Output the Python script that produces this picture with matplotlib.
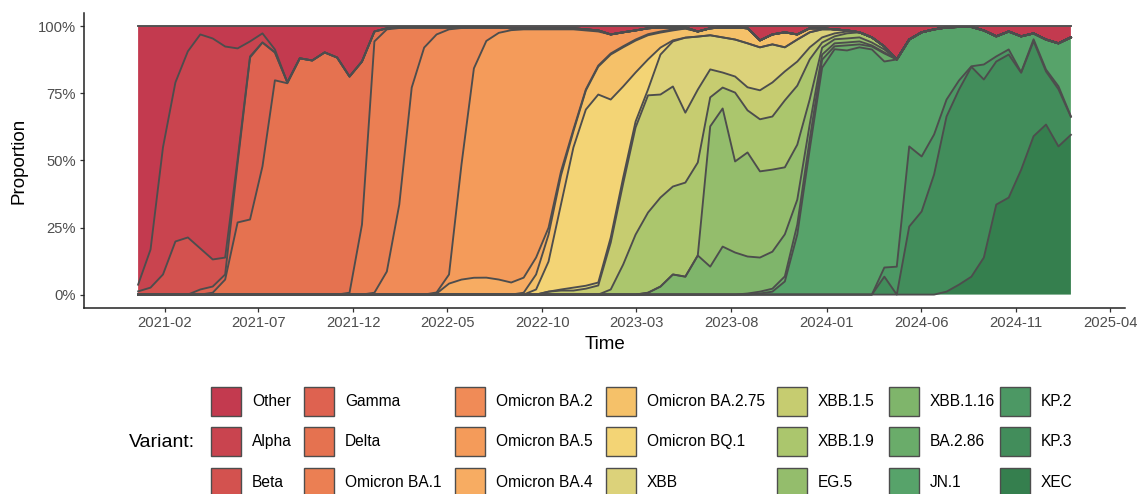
import numpy as np
import pandas as pd
import matplotlib
matplotlib.use("Agg")
import matplotlib.pyplot as plt
import matplotlib.dates as mdates
from matplotlib.patches import Rectangle

plt.rcParams['font.family'] = ['Liberation Sans', 'DejaVu Sans']

# ---------------- data (percent shares) ----------------
dates = pd.date_range("2020-12-20", periods=76, freq="20D")

labels = ["Other", "Alpha", "Beta", "Gamma", "Delta", "Omicron BA.1",
          "Omicron BA.2", "Omicron BA.5", "Omicron BA.4", "Omicron BA.2.75",
          "Omicron BQ.1", "XBB", "XBB.1.5", "XBB.1.9", "EG.5", "XBB.1.16",
          "BA.2.86", "JN.1", "KP.2", "KP.3", "XEC"]

colors = ["#C33A4F", "#C9444F", "#D3524F", "#DE6250", "#E57250", "#EB7F53",
          "#F08B57", "#F49B5A", "#F7AC62", "#F5C169", "#F3D475", "#DCD27A",
          "#C6CC70", "#ABC66D", "#94BD6C", "#7FB56B", "#6AAC6A", "#57A36A",
          "#4C9864", "#428D5B", "#357F4E"]

other = [96.3, 83.2, 45.1, 20.9, 9.3, 3.0, 4.5, 7.5, 8.2, 5.6,
         2.6, 8.6, 20.9, 11.9, 12.7, 9.7, 11.6, 18.7, 13.1, 1.9,
         0.7, 0.4, 0.4, 0.4, 0.4, 0.4, 0.4, 0.4, 0.4, 0.4,
         0.7, 0.7, 0.7, 0.7, 0.7, 0.7, 1.1, 1.5, 3.0, 2.2,
         1.5, 0.7, 0.4, 0.4, 0.4, 1.9, 0.7, 0.4, 0.4, 0.7,
         5.2, 3.0, 2.2, 3.0, 0.7, 0.7, 1.1, 1.5, 2.2, 4.1,
         7.5, 12.3, 4.9, 2.2, 1.1, 0.4, 0.2, 0.2, 1.5, 3.7,
         1.9, 3.7, 2.6, 4.9, 6.3, 4.1]
alpha = [2.5, 14.2, 47.4, 59.3, 69.4, 79.8, 82.4, 78.7, 41.4, 5.6,
         3.4, 1.1, 0, 0, 0, 0, 0, 0, 0, 0,
         0, 0, 0, 0, 0, 0, 0, 0, 0, 0,
         0, 0, 0, 0, 0, 0, 0, 0, 0, 0,
         0, 0, 0, 0, 0, 0, 0, 0, 0, 0,
         0, 0, 0, 0, 0, 0, 0, 0, 0, 0,
         0, 0, 0, 0, 0, 0, 0, 0, 0, 0,
         0, 0, 0, 0, 0, 0]
beta = [1.2, 2.6, 7.5, 19.8, 21.3, 15.3, 10.1, 6.3, 1.5, 0.4,
        0, 0, 0, 0, 0, 0, 0, 0, 0, 0,
        0, 0, 0, 0, 0, 0, 0, 0, 0, 0,
        0, 0, 0, 0, 0, 0, 0, 0, 0, 0,
        0, 0, 0, 0, 0, 0, 0, 0, 0, 0,
        0, 0, 0, 0, 0, 0, 0, 0, 0, 0,
        0, 0, 0, 0, 0, 0, 0, 0, 0, 0,
        0, 0, 0, 0, 0, 0]
gamma = [0, 0, 0, 0, 0, 1.9, 2.3, 1.9, 22.0, 60.4,
         46.2, 10.4, 0.3, 0, 0, 0, 0, 0, 0, 0,
         0, 0, 0, 0, 0, 0, 0, 0, 0, 0,
         0, 0, 0, 0, 0, 0, 0, 0, 0, 0,
         0, 0, 0, 0, 0, 0, 0, 0, 0, 0,
         0, 0, 0, 0, 0, 0, 0, 0, 0, 0,
         0, 0, 0, 0, 0, 0, 0, 0, 0, 0,
         0, 0, 0, 0, 0, 0]
delta = [0, 0, 0, 0, 0, 0, 0.7, 5.6, 26.9, 28.0,
         47.8, 79.9, 78.8, 88.1, 87.3, 90.3, 88.4, 80.6, 60.8, 3.7,
         0.4, 0.2, 0, 0, 0, 0, 0, 0, 0, 0,
         0, 0, 0, 0, 0, 0, 0, 0, 0, 0,
         0, 0, 0, 0, 0, 0, 0, 0, 0, 0,
         0, 0, 0, 0, 0, 0, 0, 0, 0, 0,
         0, 0, 0, 0, 0, 0, 0, 0, 0, 0,
         0, 0, 0, 0, 0, 0]
ba1 = [0, 0, 0, 0, 0, 0, 0, 0, 0, 0,
       0, 0, 0, 0, 0, 0, 0, 0.7, 26.1, 93.7,
       90.3, 65.9, 22.4, 7.5, 2.6, 0.7, 0.2, 0, 0, 0,
       0, 0, 0, 0, 0, 0, 0, 0, 0, 0,
       0, 0, 0, 0, 0, 0, 0, 0, 0, 0,
       0, 0, 0, 0, 0, 0, 0, 0, 0, 0,
       0, 0, 0, 0, 0, 0, 0, 0, 0, 0,
       0, 0, 0, 0, 0, 0]
ba2 = [0, 0, 0, 0, 0, 0, 0, 0, 0, 0,
       0, 0, 0, 0, 0, 0, 0, 0, 0, 0.7,
       8.6, 33.6, 77.2, 92.2, 96.3, 91.4, 51.0, 15.3, 5.0, 2.0,
       0.7, 0.4, 0.4, 0.4, 0.4, 0.4, 0.4, 0.4, 0, 0,
       0, 0, 0, 0, 0, 0, 0, 0, 0, 0,
       0, 0, 0, 0, 0, 0, 0, 0, 0, 0,
       0, 0, 0, 0, 0, 0, 0, 0, 0, 0,
       0, 0, 0, 0, 0, 0]
ba5 = [0, 0, 0, 0, 0, 0, 0, 0, 0, 0,
       0, 0, 0, 0, 0, 0, 0, 0, 0, 0,
       0, 0, 0, 0, 0.4, 3.4, 42.9, 78.4, 88.0, 91.8,
       94.0, 92.5, 85.0, 73.9, 53.0, 37.3, 22.0, 12.7, 7.1, 5.2,
       3.4, 2.2, 1.5, 0.7, 0.4, 0, 0, 0, 0, 0,
       0, 0, 0, 0, 0, 0, 0, 0, 0, 0,
       0, 0, 0, 0, 0, 0, 0, 0, 0, 0,
       0, 0, 0, 0, 0, 0]
ba4 = [0, 0, 0, 0, 0, 0, 0, 0, 0, 0,
       0, 0, 0, 0, 0, 0, 0, 0, 0, 0,
       0, 0, 0, 0, 0.4, 4.1, 5.6, 6.3, 6.3, 5.6,
       4.5, 5.6, 6.3, 2.6, 1.5, 0.7, 0.4, 0.4, 0.4, 0.4,
       0.4, 0.4, 0.4, 0.4, 0, 0, 0, 0, 0, 0,
       0, 0, 0, 0, 0, 0, 0, 0, 0, 0,
       0, 0, 0, 0, 0, 0, 0, 0, 0, 0,
       0, 0, 0, 0, 0, 0]
ba275 = [0, 0, 0, 0, 0, 0, 0, 0, 0, 0,
         0, 0, 0, 0, 0, 0, 0, 0, 0, 0,
         0, 0, 0, 0, 0, 0, 0, 0, 0, 0,
         0, 0.7, 5.6, 10.0, 10.8, 6.0, 7.1, 10.4, 16.8, 14.6,
         11.9, 9.0, 5.6, 3.7, 3.4, 1.9, 2.6, 3.7, 4.5, 5.6,
         2.6, 3.7, 5.6, 1.9, 1.5, 0.4, 0, 0, 0, 0,
         0, 0, 0, 0, 0, 0, 0, 0, 0, 0,
         0, 0, 0, 0, 0, 0]
bq1 = [0, 0, 0, 0, 0, 0, 0, 0, 0, 0,
       0, 0, 0, 0, 0, 0, 0, 0, 0, 0,
       0, 0, 0, 0, 0, 0, 0, 0, 0, 0,
       0, 0, 1.9, 11.2, 31.7, 52.2, 65.7, 70.1, 51.5, 34.0,
       18.3, 11.2, 2.6, 0.4, 0, 0, 0, 0, 0, 0,
       0, 0, 0, 0, 0, 0, 0, 0, 0, 0,
       0, 0, 0, 0, 0, 0, 0, 0, 0, 0,
       0, 0, 0, 0, 0, 0]
xbb = [0, 0, 0, 0, 0, 0, 0, 0, 0, 0,
       0, 0, 0, 0, 0, 0, 0, 0, 0, 0,
       0, 0, 0, 0, 0, 0, 0, 0, 0, 0,
       0, 0, 0, 0, 0.4, 1.1, 1.1, 1.1, 1.9, 2.2,
       2.2, 2.2, 14.9, 16.8, 28.0, 19.8, 12.7, 13.1, 13.8, 16.4,
       16.0, 14.2, 9.0, 8.2, 5.6, 3.0, 1.5, 0.4, 0, 0,
       0, 0, 0, 0, 0, 0, 0, 0, 0, 0,
       0, 0, 0, 0, 0, 0]
xbb15 = [0, 0, 0, 0, 0, 0, 0, 0, 0, 0,
         0, 0, 0, 0, 0, 0, 0, 0, 0, 0,
         0, 0, 0, 0, 0, 0, 0, 0, 0, 0,
         0, 0, 0, 1.1, 1.5, 1.5, 2.2, 3.4, 17.5, 30.2,
         40.0, 43.7, 38.4, 37.3, 26.1, 27.2, 10.4, 5.6, 6.0, 8.6,
         10.8, 12.7, 10.8, 9.0, 4.5, 1.9, 1.1, 0.7, 0, 0,
         0, 0, 0, 0, 0, 0, 0, 0, 0, 0,
         0, 0, 0, 0, 0, 0]
xbb19 = [0, 0, 0, 0, 0, 0, 0, 0, 0, 0,
         0, 0, 0, 0, 0, 0, 0, 0, 0, 0,
         0, 0, 0, 0, 0, 0, 0, 0, 0, 0,
         0, 0, 0, 0, 0, 0, 0, 0, 1.9, 11.2,
         22.4, 29.9, 33.2, 32.8, 35.1, 34.7, 10.8, 7.8, 25.7, 15.7,
         19.4, 19.8, 25.0, 22.0, 14.9, 1.9, 1.1, 1.9, 1.9, 1.9,
         1.1, 0, 0, 0, 0, 0, 0, 0, 0, 0,
         0, 0, 0, 0, 0, 0]
eg5 = [0, 0, 0, 0, 0, 0, 0, 0, 0, 0,
       0, 0, 0, 0, 0, 0, 0, 0, 0, 0,
       0, 0, 0, 0, 0, 0, 0, 0, 0, 0,
       0, 0, 0, 0, 0, 0, 0, 0, 0, 0,
       0, 0, 0, 0, 0, 0, 52.2, 51.5, 34.0, 38.8,
       32.1, 30.6, 25.0, 20.5, 9.3, 2.6, 1.5, 1.5, 1.5, 1.1,
       1.1, 0, 0, 0, 0, 0, 0, 0, 0, 0,
       0, 0, 0, 0, 0, 0]
xbb116 = [0, 0, 0, 0, 0, 0, 0, 0, 0, 0,
          0, 0, 0, 0, 0, 0, 0, 0, 0, 0,
          0, 0, 0, 0, 0, 0, 0, 0, 0, 0,
          0, 0, 0, 0, 0, 0, 0, 0, 0, 0,
          0, 0.7, 3.0, 7.5, 6.7, 14.6, 10.4, 17.9, 15.7, 13.8,
          12.7, 13.8, 15.7, 9.3, 5.6, 1.9, 1.1, 1.1, 1.1, 0.4,
          0.4, 0, 0, 0, 0, 0, 0, 0, 0, 0,
          0, 0, 0, 0, 0, 0]
ba286 = [0, 0, 0, 0, 0, 0, 0, 0, 0, 0,
         0, 0, 0, 0, 0, 0, 0, 0, 0, 0,
         0, 0, 0, 0, 0, 0, 0, 0, 0, 0,
         0, 0, 0, 0, 0, 0, 0, 0, 0, 0,
         0, 0, 0, 0, 0, 0, 0, 0, 0, 0.4,
         0.7, 1.1, 1.9, 3.7, 3.7, 3.0, 1.1, 1.9, 1.1, 1.1,
         3.0, 0, 0, 0, 0, 0, 0, 0, 0, 0,
         0, 0, 0, 0, 0, 0]
jn1 = [0, 0, 0, 0, 0, 0, 0, 0, 0, 0,
       0, 0, 0, 0, 0, 0, 0, 0, 0, 0,
       0, 0, 0, 0, 0, 0, 0, 0, 0, 0,
       0, 0, 0, 0, 0, 0, 0, 0, 0, 0,
       0, 0, 0, 0, 0, 0, 0, 0, 0, 0,
       0.4, 1.1, 4.9, 22.4, 54.1, 84.7, 91.4, 91.4, 92.2, 91.4,
       76.9, 77.2, 39.9, 46.3, 39.2, 26.9, 20.0, 14.7, 12.7, 7.5,
       6.7, 13.4, 2.2, 11.2, 16.0, 29.5]
kp2 = [0, 0, 0, 0, 0, 0, 0, 0, 0, 0,
       0, 0, 0, 0, 0, 0, 0, 0, 0, 0,
       0, 0, 0, 0, 0, 0, 0, 0, 0, 0,
       0, 0, 0, 0, 0, 0, 0, 0, 0, 0,
       0, 0, 0, 0, 0, 0, 0, 0, 0, 0,
       0, 0, 0, 0, 0, 0, 0, 0, 0, 0,
       3.4, 10.4, 29.9, 20.5, 14.9, 6.3, 3.4, 0.2, 5.6, 1.9,
       1.9, 0.2, 0.7, 0.7, 1.1, 0.2]
kp3 = [0, 0, 0, 0, 0, 0, 0, 0, 0, 0,
       0, 0, 0, 0, 0, 0, 0, 0, 0, 0,
       0, 0, 0, 0, 0, 0, 0, 0, 0, 0,
       0, 0, 0, 0, 0, 0, 0, 0, 0, 0,
       0, 0, 0, 0, 0, 0, 0, 0, 0, 0,
       0, 0, 0, 0, 0, 0, 0, 0, 0, 0,
       6.7, 0, 25.4, 31.0, 44.8, 65.3, 72.8, 78.4, 66.4, 53.4,
       53.4, 36.2, 35.4, 19.8, 21.3, 6.7]
xec = [0, 0, 0, 0, 0, 0, 0, 0, 0, 0,
       0, 0, 0, 0, 0, 0, 0, 0, 0, 0,
       0, 0, 0, 0, 0, 0, 0, 0, 0, 0,
       0, 0, 0, 0, 0, 0, 0, 0, 0, 0,
       0, 0, 0, 0, 0, 0, 0, 0, 0, 0,
       0, 0, 0, 0, 0, 0, 0, 0, 0, 0,
       0, 0, 0, 0, 0, 1.1, 3.7, 6.7, 13.8, 33.6,
       36.2, 46.6, 59.0, 63.4, 55.2, 59.7]

series = [other, alpha, beta, gamma, delta, ba1, ba2, ba5, ba4, ba275, bq1,
          xbb, xbb15, xbb19, eg5, xbb116, ba286, jn1, kp2, kp3, xec]
for name, s in zip(labels, series):
    if len(s) != len(dates):
        raise ValueError(f"{name}: {len(s)} values")

vals = np.array(series, dtype=float)
props = vals / vals.sum(axis=0)          # shares per time point

# ---------------- figure ----------------
W, H = 1138, 494
fig = plt.figure(figsize=(W / 100, H / 100), dpi=100)
L, R, T, B = 84, 1125, 13, 308
ax = fig.add_axes([L / W, 1 - B / H, (R - L) / W, (B - T) / H])

# ggplot stacks first level on top -> draw reversed (bottom first)
stack = props[::-1]
cols = colors[::-1]
ax.stackplot(dates, stack, colors=cols, linewidth=0, antialiased=True)
cum = np.cumsum(stack, axis=0)
for row in cum:
    ax.plot(dates, row, color="#4D4D4D", lw=1.35, solid_joinstyle="round")

ax.set_ylim(-0.05, 1.05)
ax.set_xlim(pd.Timestamp("2020-09-24"), pd.Timestamp("2025-04-25"))
ax.set_yticks([0, 0.25, 0.5, 0.75, 1.0])
ax.set_yticklabels(["0%", "25%", "50%", "75%", "100%"])
ticks = pd.date_range("2021-02-01", "2025-04-01", freq="5MS")
ax.set_xticks(ticks)
ax.xaxis.set_major_formatter(mdates.DateFormatter("%Y-%m"))

for side in ("top", "right"):
    ax.spines[side].set_visible(False)
for side in ("left", "bottom"):
    ax.spines[side].set_color("#222222")
    ax.spines[side].set_linewidth(1.1)
ax.tick_params(axis="both", colors="#333333", length=3.2, width=0.9,
               labelsize=10.6, labelcolor="#4D4D4D", pad=2.5)
ax.set_facecolor("white")

ax.set_xlabel("Time", fontsize=13.5, color="black")
ax.set_ylabel("Proportion", fontsize=13.5, color="black")
ax.xaxis.set_label_coords((605 - L) / (R - L), (B - 336) / (B - T))
ax.yaxis.set_label_coords((28 - L) / (R - L), 0.5)

# ---------------- legend (drawn in pixel coordinates) ----------------
lax = fig.add_axes([0, 0, 1, 1])
lax.set_xlim(0, W)
lax.set_ylim(H, 0)
lax.axis("off")
lax.patch.set_visible(False)

col_x = [211, 304, 455, 606, 777, 889, 1000]
row_y = [401, 441, 482]
key_w, key_h = 30, 29
for i, (lab, c) in enumerate(zip(labels, colors)):
    ci, ri = divmod(i, 3)
    x0, yc = col_x[ci], row_y[ri]
    lax.add_patch(Rectangle((x0, yc - key_h / 2), key_w, key_h,
                            facecolor=c, edgecolor="#4D4D4D", lw=1.0))
    lax.text(x0 + 41, yc, lab, fontsize=11.2, va="center", ha="left",
             color="black")
lax.text(129, 442, "Variant:", fontsize=14, va="center", ha="left",
         color="black")

fig.savefig("out.png", dpi=100)
